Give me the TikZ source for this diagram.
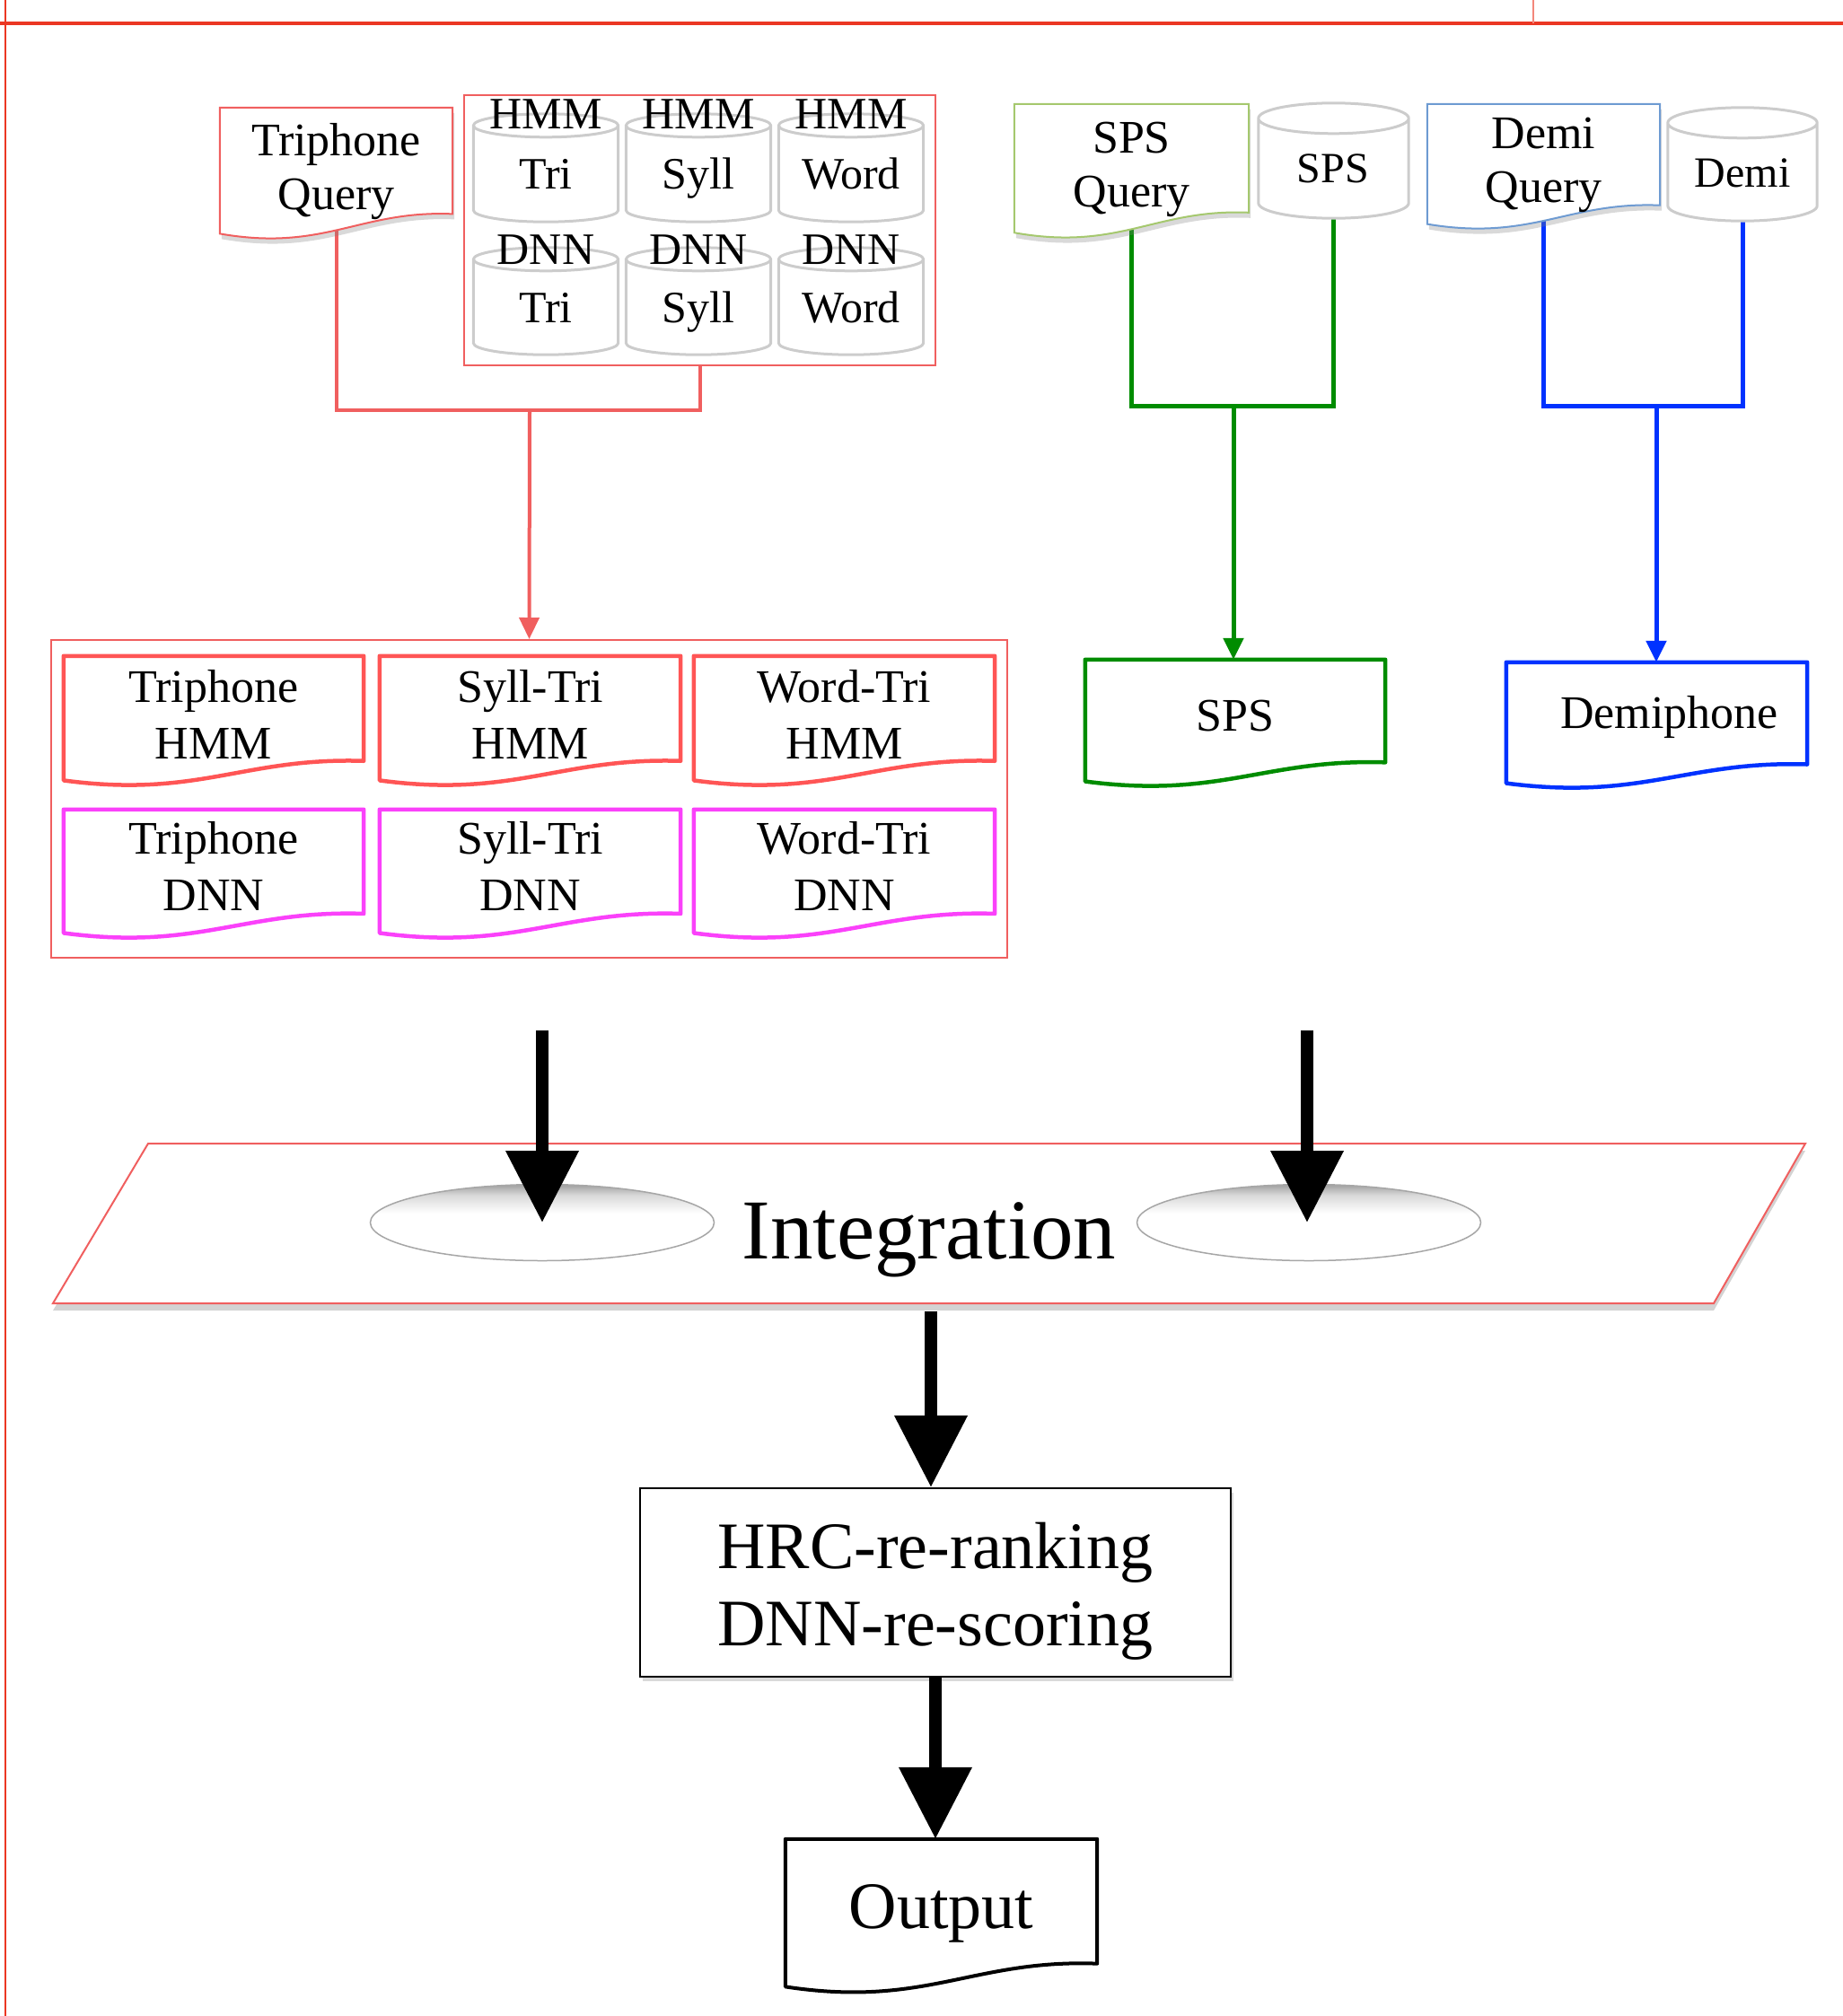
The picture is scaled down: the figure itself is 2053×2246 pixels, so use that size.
\documentclass[tikz,border=0pt]{standalone}
\usepackage{fontspec}
\setmainfont{Liberation Serif}
\usetikzlibrary{calc,arrows.meta,shapes.geometric,shadows,backgrounds}

\definecolor{cred}{RGB}{240,95,95}
\definecolor{docred}{RGB}{255,85,85}
\definecolor{docmag}{RGB}{250,65,250}
\definecolor{cgreen}{RGB}{0,140,0}
\definecolor{cblue}{RGB}{0,50,255}
\definecolor{lgreen}{RGB}{165,200,110}
\definecolor{lblue}{RGB}{110,155,210}
\definecolor{framered}{RGB}{235,55,35}

\pgfdeclareverticalshading{holeshade}{100bp}{color(0bp)=(white); color(25bp)=(white); color(56bp)=(white); color(68bp)=(gray!30); color(75bp)=(gray!75); color(100bp)=(gray!75)}

% document outline: #1 style, #2 node, #3 extra depth of wave below node
\newcommand\docpath[3]{%
  \draw[#1] let \p1=(#2.north west), \p2=(#2.south east),
    \n1={\y1-\y2+#3}, \n2={\x2-\x1}, \n3={\y2-#3} in
  (\x1,\y1) -- (\x2,\y1) -- (\x2,{\n3+0.19*\n1})
  .. controls ({\x1+0.6*\n2},{\n3+0.22*\n1}) and ({\x1+0.45*\n2},{\n3-0.1*\n1}) ..
  (\x1,{\n3+0.04*\n1}) -- cycle;}

% cylinder outline: #1 node, #2 y radius
\newcommand\cylpath[2]{%
  \draw[cylline] let \p1=(#1.north west), \p2=(#1.south east), \n1={(\x2-\x1)/2} in
  (\x1,{\y1-#2}) -- (\x1,{\y2+#2}) arc[start angle=180,end angle=360,x radius=\n1,y radius=#2pt]
  -- (\x2,{\y1-#2}) arc[start angle=0,end angle=180,x radius=\n1,y radius=#2pt] -- cycle
  (\x1,{\y1-#2}) arc[start angle=180,end angle=360,x radius=\n1,y radius=#2pt];}

\tikzset{
  qtxt/.style={inner sep=0pt, align=center, font=\fontsize{52}{60}\selectfont},
  mtxt/.style={inner sep=0pt, align=center, font=\fontsize{52}{63}\selectfont},
  cl/.style={inner sep=0pt, anchor=base, font=\fontsize{50}{60}\selectfont},
  clb/.style={inner sep=0pt, anchor=base, font=\fontsize{48}{58}\selectfont},
  cyl/.style={inner sep=0pt, minimum width=161pt},
  cylline/.style={draw=gray!40, line width=3pt, fill=white},
  qshadow/.style={drop shadow={opacity=0.3, shadow xshift=2pt, shadow yshift=-6pt, fill=gray}},
  rdoc/.style={draw=docred, line width=4.5pt, fill=white, line join=round},
  mdoc/.style={draw=docmag, line width=4.5pt, fill=white, line join=round},
  rline/.style={draw=cred, line width=4pt},
  gline/.style={draw=cgreen, line width=5pt},
  bline/.style={draw=cblue, line width=5pt},
  smalltip/.style={-{Triangle[length=24pt,width=22pt]}},
  bigarrow/.style={line width=14pt, -{Triangle[length=80pt,width=78pt]}},
  hole/.style={ellipse, inner sep=0pt, minimum width=383pt, minimum height=85pt,
    draw=gray!70, line width=1.5pt, shade, shading=holeshade}
}

\begin{document}
\begin{tikzpicture}[x=1pt,y=1pt]
\useasboundingbox (0,0) rectangle (2053,-2246);

% frame lines
\draw[framered, line width=2pt] (6,0) -- (6,-2246);
\draw[framered, line width=3.5pt] (0,-26) -- (2053,-26);
\draw[framered!60, line width=1.5pt] (1708,0) -- (1708,-26);

% query documents
\node[qtxt, minimum width=259pt, minimum height=142pt] (tq) at (374.5,-191) {Triphone\\Query};
\node[qtxt, minimum width=261pt, minimum height=145pt] (spsq) at (1260.5,-188.5) {SPS\\Query};
\node[qtxt, minimum width=259pt, minimum height=136pt] (demiq) at (1719.5,-184) {Demi\\Query};

% model container
\node[draw=cred, line width=2pt, minimum width=525pt, minimum height=301pt, inner sep=0pt] (mr) at (779.5,-256.5) {};

% cylinders
\node[cyl, minimum height=120pt] (cHT) at (608,-187) {};
\node[cyl, minimum height=120pt] (cHS) at (778,-187) {};
\node[cyl, minimum height=120pt] (cHW) at (948,-187) {};
\node[cyl, minimum height=119pt] (cDT) at (608,-335.5) {};
\node[cyl, minimum height=119pt] (cDS) at (778,-335.5) {};
\node[cyl, minimum height=119pt] (cDW) at (948,-335.5) {};
\node[inner sep=0pt, minimum width=167pt, minimum height=128pt] (cSPS) at (1485.5,-179) {};
\node[inner sep=0pt, minimum width=166pt, minimum height=126pt] (cDemi) at (1941,-183) {};

% cylinder labels
\node[cl] (lHT1) at (608,-143.5) {HMM};
\node[cl] (lHT2) at (608,-210) {Tri};
\node[cl] (lHS1) at (778,-143.5) {HMM};
\node[cl] (lHS2) at (778,-210) {Syll};
\node[cl] (lHW1) at (948,-143.5) {HMM};
\node[cl] (lHW2) at (948,-210) {Word};
\node[cl] (lDT1) at (608,-294) {DNN};
\node[cl] (lDT2) at (608,-359) {Tri};
\node[cl] (lDS1) at (778,-294) {DNN};
\node[cl] (lDS2) at (778,-359) {Syll};
\node[cl] (lDW1) at (948,-294) {DNN};
\node[cl] (lDW2) at (948,-359) {Word};
\node[clb] (lSPS) at (1485,-203) {SPS};
\node[clb] (lDemi) at (1941,-208) {Demi};

% model results container
\node[draw=cred, line width=2pt, minimum width=1065pt, minimum height=354pt, inner sep=0pt] (models) at (589.5,-890) {};

\node[mtxt, minimum width=334pt, minimum height=129pt] (d11) at (238,-795.5) {Triphone\\HMM};
\node[mtxt, minimum width=335pt, minimum height=129pt] (d12) at (590.5,-795.5) {Syll-Tri\\HMM};
\node[mtxt, minimum width=335pt, minimum height=129pt] (d13) at (940.5,-795.5) {Word-Tri\\HMM};
\node[mtxt, minimum width=334pt, minimum height=126pt] (d21) at (238,-965) {Triphone\\DNN};
\node[mtxt, minimum width=335pt, minimum height=126pt] (d22) at (590.5,-965) {Syll-Tri\\DNN};
\node[mtxt, minimum width=335pt, minimum height=126pt] (d23) at (940.5,-965) {Word-Tri\\DNN};

\node[mtxt, minimum width=334pt, minimum height=126pt] (spsd) at (1376,-798) {SPS};
\node[mtxt, minimum width=335pt, minimum height=122pt] (demid) at (1845.5,-799) {\hspace*{28pt}Demiphone};

% integration
\node[inner sep=0pt, anchor=base, font=\fontsize{95}{110}\selectfont] (integ) at (1035,-1402) {Integration};
\node[hole] (ellL) at (604,-1362) {};
\node[hole] (ellR) at (1458,-1362) {};

% HRC box
\node[draw=black, line width=2pt, fill=white, minimum width=658pt, minimum height=210pt, inner sep=0pt,
  drop shadow={opacity=0.3, shadow xshift=3pt, shadow yshift=-5pt, fill=gray}] (hrcbox) at (1042,-1763) {};
\node[inner sep=0pt, align=center, font=\fontsize{74}{86}\selectfont] (hrctext) at (1042,-1773) {HRC-re-ranking\\DNN-re-scoring};

% output
\node[inner sep=0pt, align=center, font=\fontsize{74}{86}\selectfont, minimum width=347pt, minimum height=166pt] (outd) at (1048.5,-2132) {Output};

% coordinates
\coordinate (rjoin) at (590,-457);
\coordinate (gjoin) at (1374,-452);
\coordinate (bjoin) at (1845,-452);
\coordinate (aL) at (604,-1148);
\coordinate (aR) at (1456,-1148);
\coordinate (iB) at (1037,-1461);

\begin{pgfonlayer}{background}
  % integration plane
  \draw[draw=cred, line width=2pt, fill=white,
    drop shadow={opacity=0.35, shadow xshift=0pt, shadow yshift=-8pt, fill=gray}]
    (165,-1274) -- (2011,-1274) -- (1909,-1452) -- (59,-1452) -- cycle;
  % connectors
  \draw[rline] ([yshift=15pt]tq.south) |- (rjoin) -| (mr.south);
  \draw[rline, smalltip] (rjoin) -- (models.north);
  \draw[gline] ([yshift=15pt]spsq.south) |- (gjoin) -| (cSPS.south);
  \draw[gline, smalltip] (gjoin) -- (gjoin |- spsd.north);
  \draw[bline] ([yshift=15pt]demiq.south) |- (bjoin) -| (cDemi.south);
  \draw[bline, smalltip] (bjoin) -- (bjoin |- demid.north);
  % document outlines
  \docpath{draw=cred, line width=2pt, fill=white, qshadow}{tq}{4}
  \docpath{draw=lgreen, line width=2pt, fill=white, qshadow}{spsq}{4}
  \docpath{draw=lblue, line width=2pt, fill=white, qshadow}{demiq}{3}
  \docpath{rdoc}{d11}{15}
  \docpath{rdoc}{d12}{15}
  \docpath{rdoc}{d13}{15}
  \docpath{mdoc}{d21}{17}
  \docpath{mdoc}{d22}{17}
  \docpath{mdoc}{d23}{17}
  \docpath{draw=cgreen, line width=4.5pt, fill=white, line join=round}{spsd}{15}
  \docpath{draw=cblue, line width=4.5pt, fill=white, line join=round}{demid}{18}
  \docpath{draw=black, line width=4pt, fill=white, line join=round}{outd}{5}
  % cylinders
  \cylpath{cHT}{13}
  \cylpath{cHS}{13}
  \cylpath{cHW}{13}
  \cylpath{cDT}{13}
  \cylpath{cDS}{13}
  \cylpath{cDW}{13}
  \cylpath{cSPS}{17}
  \cylpath{cDemi}{17}
\end{pgfonlayer}

% big arrows
\draw[bigarrow] (aL) -- (aL |- ellL.center);
\draw[bigarrow] (aR) -- (aR |- ellR.center);
\draw[bigarrow] (iB) -- (iB |- hrcbox.north);
\draw[bigarrow] (hrcbox.south) -- (hrcbox.south |- outd.north);
\end{tikzpicture}
\end{document}
